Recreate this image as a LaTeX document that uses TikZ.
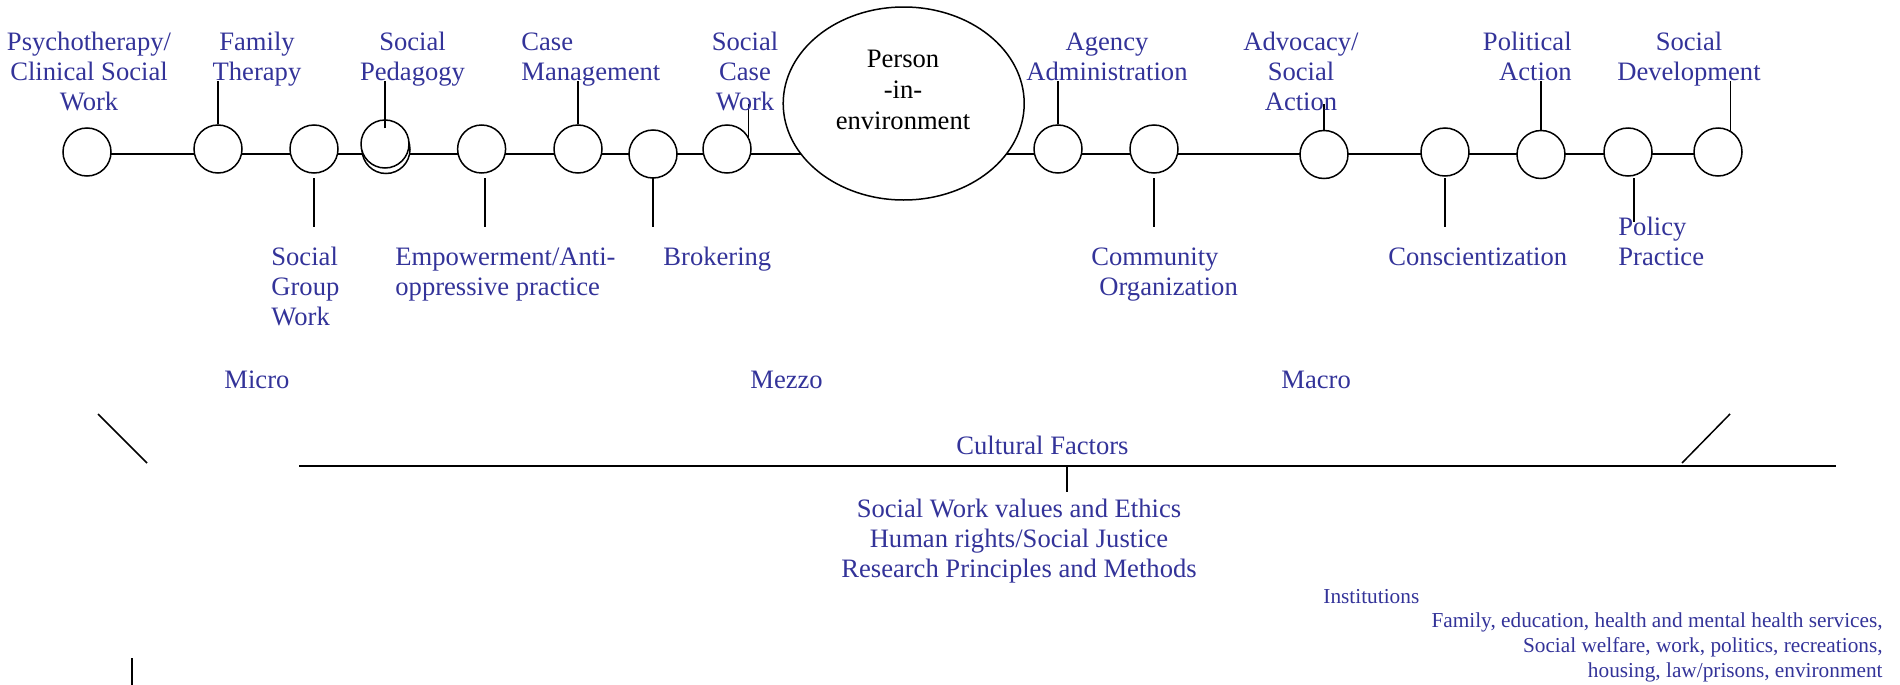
\documentclass[tikz,border=0pt]{standalone}
\usepackage{fontspec}
\setmainfont{Liberation Serif}
\usetikzlibrary{shapes.geometric,backgrounds}
\definecolor{swblue}{RGB}{51,51,153}
\newcommand\lbfont{\fontsize{13.3pt}{15pt}\selectfont}
\newcommand\smfont{\fontsize{10.65pt}{12.4pt}\selectfont}
\tikzset{
  stage/.style={circle, draw, fill=white, line width=0.75pt, minimum size=24pt, inner sep=0pt},
  lbl/.style={text=swblue, font=\lbfont, inner sep=0pt},
  small/.style={text=swblue, font=\smfont, inner sep=0pt},
  tick/.style={line width=0.75pt},
}
\begin{document}
\begin{tikzpicture}[x=0.5pt, y=-0.5pt]
  \useasboundingbox (0,0) rectangle (1900,685);
  % stages along the line
  \node[stage] (c1)  at (87,152) {};
  \node[stage] (c2)  at (218,149) {};
  \node[stage] (c3)  at (314,149) {};
  \node[stage] (c4b) at (386,149.5) {};
  \node[stage] (c4a) at (385,144) {};
  \node[stage] (c5)  at (481.6,149) {};
  \node[stage] (c6)  at (578,149) {};
  \node[stage] (c7)  at (653,154) {};
  \node[stage] (c8)  at (727,149) {};
  \node[ellipse, draw, fill=white, line width=0.75pt, minimum width=120.5pt,
        minimum height=96.5pt, inner sep=0pt] (pie) at (903.7,103.5) {};
  \node[stage] (c9)  at (1058,149) {};
  \node[stage] (c10) at (1154,149) {};
  \node[stage] (c11) at (1324,154.5) {};
  \node[stage] (c12) at (1445,152) {};
  \node[stage] (c13) at (1541,154.5) {};
  \node[stage] (c14) at (1628,152) {};
  \node[stage] (c15) at (1718,152) {};
  \node[font=\fontsize{13.3pt}{15.5pt}\selectfont, inner sep=0pt, align=center, anchor=base]
    (pietxt) at (903,129) {Person\\-in-\\environment};

  % line behind the stages
  \coordinate (spine) at (0,154);
  \begin{scope}[on background layer]
    \draw[tick] (c1 |- spine) -- (c15 |- spine);
  \end{scope}

  % ticks to the labels
  \coordinate (hi) at (0,81);
  \coordinate (mid) at (0,104);
  \coordinate (lotop) at (0,178);
  \coordinate (lobot) at (0,227);
  \coordinate (lopol) at (0,222);
  \draw[tick] (c2.north) -- (c2 |- hi);
  \draw[tick] ([yshift=-4.5pt]c4a.north) -- (c4a |- hi);
  \draw[tick] (c6.north) -- (c6 |- hi);
  \draw[tick] (c8.29) -- (c8.29 |- mid);
  \draw[tick] (c9.north) -- (c9 |- hi);
  \draw[tick] (c11.north) -- (c11 |- mid);
  \draw[tick] (c13.north) -- (c13 |- hi);
  \draw[tick] (c15.60) -- (c15.60 |- hi);
  \draw[tick] (c3 |- lotop) -- (c3 |- lobot);
  \draw[tick] (c5.-82 |- lotop) -- (c5.-82 |- lobot);
  \draw[tick] (c7 |- lotop) -- (c7 |- lobot);
  \draw[tick] (c10 |- lotop) -- (c10 |- lobot);
  \draw[tick] (c12 |- lotop) -- (c12 |- lobot);
  \draw[tick] (c14.-76 |- lotop) -- (c14.-76 |- lopol);

  % labels above (anchored on the last line)
  \node[lbl, align=center, anchor=base] (psy) at (89,110) {Psychotherapy/\\Clinical Social\\Work};
  \node[lbl, align=center, anchor=base] (fam) at (257,80) {Family\\Therapy};
  \node[lbl, align=center, anchor=base] (ped) at (412.5,80) {Social\\Pedagogy};
  \node[lbl, align=left, anchor=base west] (cas) at (521,80) {Case\\Management};
  \node[lbl, align=center, anchor=base] (scw) at (745,110) {Social\\Case\\Work};
  \node[lbl, align=center, anchor=base] (agy) at (1107,80) {Agency\\Administration};
  \node[lbl, align=center, anchor=base] (adv) at (1301,110) {Advocacy/\\Social\\Action};
  \node[lbl, align=right, anchor=base east] (pol) at (1572,80) {Political\\Action};
  \node[lbl, align=center, anchor=base] (sdv) at (1689,80) {Social\\Development};
  % labels below
  \node[lbl, align=left, anchor=base west] (sgw) at (271,325) {Social\\Group\\Work};
  \node[lbl, align=left, anchor=base west] (emp) at (395,295) {Empowerment/Anti-\\oppressive practice};
  \node[lbl, anchor=base west] (bro) at (663,265) {Brokering};
  \node[lbl, align=left, anchor=base west] (com) at (1091,295) {Community\\\hspace{4pt}Organization};
  \node[lbl, anchor=base west] (con) at (1388,265) {Conscientization};
  \node[lbl, align=left, anchor=base west] (ppr) at (1618,265) {Policy\\Practice};

  % levels
  \node[lbl, anchor=base west] (micro) at (224,388) {Micro};
  \node[lbl, anchor=base west] (mezzo) at (750,388) {Mezzo};
  \node[lbl, anchor=base west] (macro) at (1281,388) {Macro};

  % base of practice
  \draw[tick] (98,414) -- (147,463);
  \draw[tick] (1730,414) -- (1682,463);
  \draw[line width=0.9pt] (299,466) -- (1836,466);
  \draw[tick] (1067,467) -- (1067,492);
  \draw[tick] (132,658) -- (132,685);
  \node[lbl, anchor=base west] (cult) at (956,454) {Cultural Factors};
  \node[lbl, align=center, anchor=base] (vals) at (1019,577)
    {Social Work values and Ethics\\Human rights/Social Justice\\Research Principles and Methods};
  \node[small, anchor=base west] (inst) at (1323,603) {Institutions};
  \node[small, align=right, anchor=base east] (insl) at (1883,677)
    {Family, education, health and mental health services,\\Social welfare, work, politics, recreations,\\housing, law/prisons, environment};
\end{tikzpicture}
\end{document}
